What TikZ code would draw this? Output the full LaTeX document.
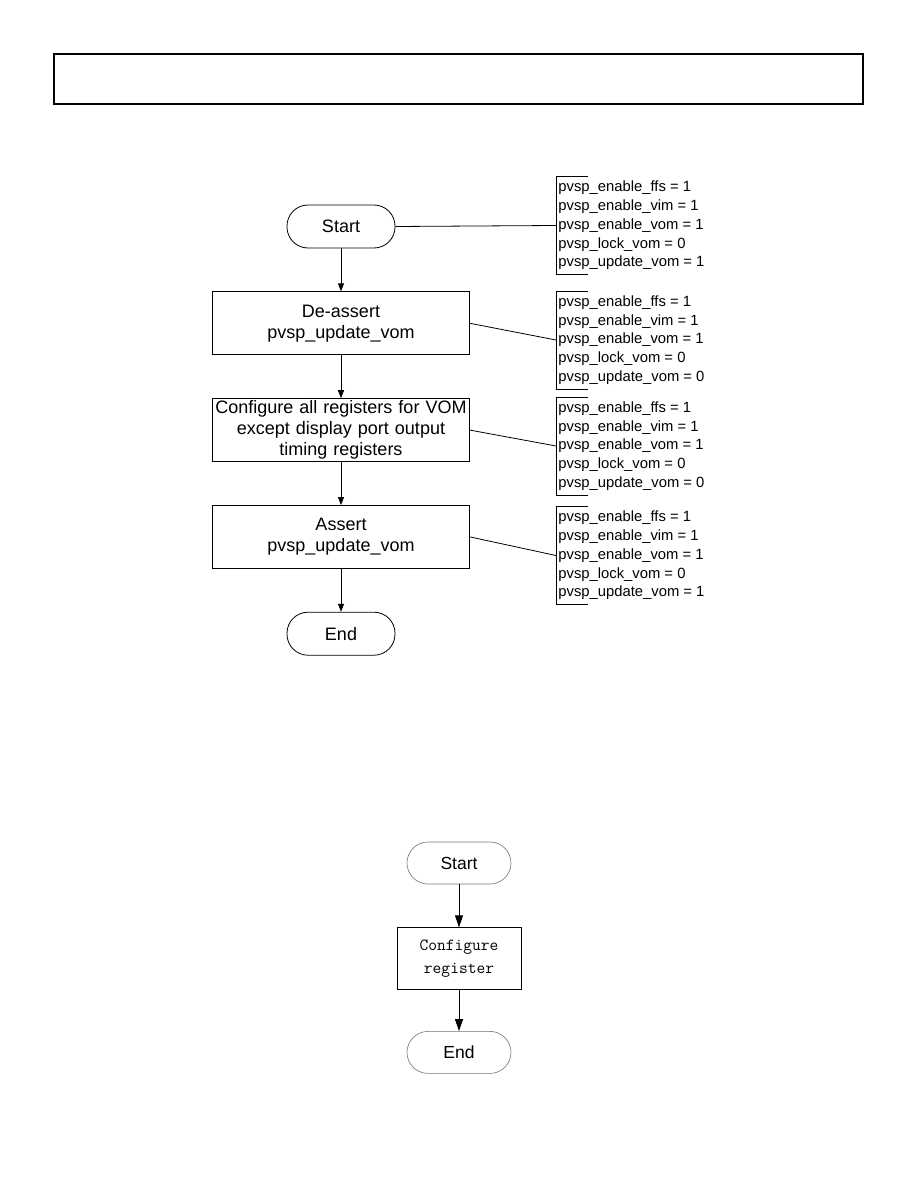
\documentclass[tikz,border=0pt]{standalone}
\usepackage{fontspec}
\setmainfont{Liberation Sans}
\usepackage{tikz}
\usetikzlibrary{arrows.meta,positioning,calc}

\begin{document}
\begin{tikzpicture}[x=1pt, y=1pt, node distance=43pt, line width=0.8pt,
    term/.style={rectangle, draw=black, rounded corners=21pt, minimum width=108pt, minimum height=43pt, font=\fontsize{18}{21}\selectfont},
    stepbox/.style={rectangle, draw=black, minimum width=257pt, minimum height=63pt, text width=252pt, align=center, inner sep=0pt, font=\fontsize{18}{21}\selectfont},
    regs/.style={rectangle, minimum height=97pt, inner xsep=2pt, inner ysep=0pt, align=left, anchor=west, font=\fontsize{14.8}{18.7}\selectfont},
    flow/.style={-{Triangle[length=8pt,width=6pt]}},
    grayterm/.style={rectangle, draw=black!55, line width=0.6pt, rounded corners=21pt, minimum width=104pt, minimum height=42pt, font=\fontsize{17.5}{21}\selectfont},
    graybox/.style={rectangle, draw=black, minimum width=124pt, minimum height=62pt, align=center, inner sep=0pt, font=\ttfamily\fontsize{17}{23}\selectfont},
    bigflow/.style={-{Triangle[length=12pt,width=8pt]}, line width=1pt}
]
    \useasboundingbox (0,0) rectangle (918,-1188);

    % header frame
    \draw[line width=1.4pt] (54,-54) rectangle (863,-104);

    % upper flow
    \node[term] (start) at (341,-226.5) {Start};
    \node[stepbox, below=of start] (deassert) {De-assert\\pvsp\_update\_vom};
    \node[stepbox, below=of deassert] (config) {Configure all registers for VOM\\except display port output\\timing registers};
    \node[stepbox, below=of config] (assert) {Assert\\pvsp\_update\_vom};
    \node[term, below=of assert] (end) {End};

    \draw[flow] (start) -- (deassert);
    \draw[flow] (deassert) -- (config);
    \draw[flow] (config) -- (assert);
    \draw[flow] (assert) -- (end);

    % register states
    \node[regs] (regsA) at (556,-225.5) {pvsp\_enable\_ffs = 1\\pvsp\_enable\_vim = 1\\pvsp\_enable\_vom = 1\\pvsp\_lock\_vom = 0\\pvsp\_update\_vom = 1};
    \node[regs] (regsB) at (556,-340) {pvsp\_enable\_ffs = 1\\pvsp\_enable\_vim = 1\\pvsp\_enable\_vom = 1\\pvsp\_lock\_vom = 0\\pvsp\_update\_vom = 0};
    \node[regs] (regsC) at (556,-446) {pvsp\_enable\_ffs = 1\\pvsp\_enable\_vim = 1\\pvsp\_enable\_vom = 1\\pvsp\_lock\_vom = 0\\pvsp\_update\_vom = 0};
    \node[regs] (regsD) at (556,-555.5) {pvsp\_enable\_ffs = 1\\pvsp\_enable\_vim = 1\\pvsp\_enable\_vom = 1\\pvsp\_lock\_vom = 0\\pvsp\_update\_vom = 1};

    \draw ($(regsA.north west)+(32,0)$) -| (regsA.south west) -- ++(32,0);
    \draw ($(regsB.north west)+(32,0)$) -| (regsB.south west) -- ++(32,0);
    \draw ($(regsC.north west)+(32,0)$) -| (regsC.south west) -- ++(32,0);
    \draw ($(regsD.north west)+(32,0)$) -| (regsD.south west) -- ++(32,0);

    \draw (start.east) -- (regsA.west);
    \draw (deassert.east) -- (regsB.west);
    \draw (config.east) -- (regsC.west);
    \draw (assert.east) -- (regsD.west);

    % lower flow
    \node[grayterm] (start2) at (459,-863) {Start};
    \node[graybox, below=of start2] (cfgreg) {Configure\\register};
    \node[grayterm, below=41pt of cfgreg] (end2) {End};

    \draw[bigflow] (start2) -- (cfgreg);
    \draw[bigflow] (cfgreg) -- (end2);

\end{tikzpicture}
\end{document}
